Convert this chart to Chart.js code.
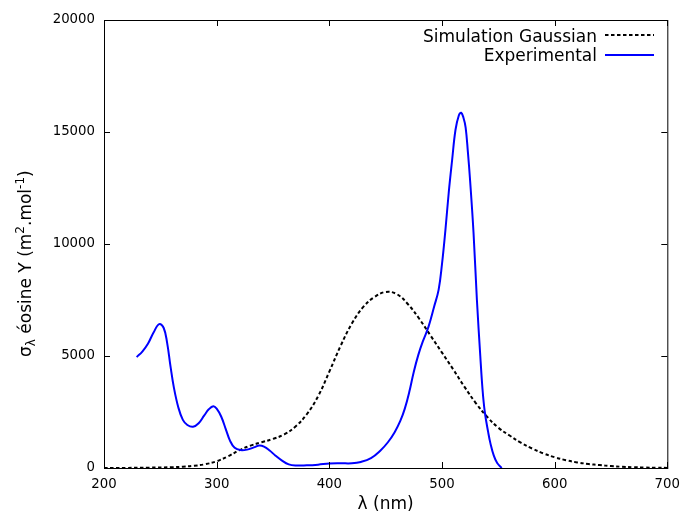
<!DOCTYPE html>
<html lang="fr">
<head>
<meta charset="utf-8"/>
<title>Spectre d'absorption éosine Y</title>
<script src="https://cdn.jsdelivr.net/npm/chart.js"></script>
<style>
  body { margin: 0; background: #fff; }
  #chart { display: block; }
</style>
</head>
<body>
<canvas id="chart" width="689" height="515"></canvas>
<script>
  // valeurs (lambda en nm, sigma en m2.mol-1)
  const simWavelengths = [200, 220, 240, 260, 270, 280, 290, 300, 310, 320, 330, 340, 350, 360, 370, 380, 390, 400, 410, 420, 430, 440, 450, 460, 470, 480, 490, 500, 510, 520, 530, 540, 550, 560, 570, 580, 590, 600, 610, 620, 630, 640, 650, 660, 670, 680, 690, 700];
  const simValues = [0, 5, 15, 35, 60, 100, 170, 300, 520, 790, 1000, 1150, 1300, 1500, 1850, 2400, 3200, 4300, 5450, 6450, 7180, 7630, 7860, 7760, 7300, 6650, 5900, 5150, 4400, 3620, 2900, 2290, 1800, 1450, 1130, 870, 650, 480, 350, 250, 180, 130, 85, 55, 35, 20, 10, 5];

  const expWavelengths = [229, 234, 239, 244, 249, 253, 256, 259, 262, 266, 270, 274, 279, 284, 289, 293, 297, 300, 304, 308, 312, 316, 321, 327, 333, 338, 342, 347, 352, 358, 364, 370, 380, 390, 400, 410, 420, 428, 437, 445, 452, 458, 463, 467, 471, 475, 479, 483, 488, 493, 497, 500, 503, 506, 509, 512, 515, 517, 519, 521, 523, 525, 528, 531, 534, 536, 538, 541, 543, 546, 549, 553];
  const expValues = [4950, 5200, 5550, 6050, 6420, 6250, 5600, 4550, 3600, 2700, 2150, 1920, 1840, 2000, 2350, 2620, 2760, 2650, 2300, 1750, 1200, 900, 800, 820, 920, 1000, 950, 780, 560, 330, 160, 110, 120, 150, 200, 210, 210, 270, 440, 760, 1150, 1600, 2100, 2650, 3400, 4300, 5050, 5650, 6300, 7200, 7950, 9100, 10600, 12300, 13750, 15100, 15750, 15860, 15650, 15200, 14100, 12800, 10500, 7500, 5000, 3500, 2500, 1600, 1100, 550, 220, 0];

  const xTicks = [200, 300, 400, 500, 600, 700];
  const yTicks = [0, 5000, 10000, 15000, 20000];

  const simLabel = 'Simulation Gaussian';
  const expLabel = 'Experimental';

  const FONT = '"DejaVu Sans", sans-serif';

  function toPoints(xs, ys) {
    return xs.map((x, i) => ({ x: x, y: ys[i] }));
  }

  // cadre + graduations vers l'intérieur (style gnuplot)
  const framePlugin = {
    id: 'frame',
    afterDraw(chart) {
      const { ctx, chartArea: a, scales } = chart;
      ctx.save();
      ctx.strokeStyle = '#000';
      ctx.lineWidth = 1;
      ctx.setLineDash([]);
      ctx.strokeRect(a.left + 0.5, a.top + 0.5, a.right - a.left, a.bottom - a.top);
      ctx.beginPath();
      xTicks.forEach(v => {
        const px = Math.round(scales.x.getPixelForValue(v)) + 0.5;
        ctx.moveTo(px, a.bottom); ctx.lineTo(px, a.bottom - 6);
        ctx.moveTo(px, a.top); ctx.lineTo(px, a.top + 6);
      });
      yTicks.forEach(v => {
        const py = Math.round(scales.y.getPixelForValue(v)) + 0.5;
        ctx.moveTo(a.left, py); ctx.lineTo(a.left + 6, py);
        ctx.moveTo(a.right, py); ctx.lineTo(a.right - 6, py);
      });
      ctx.stroke();

      // légende en haut à droite
      ctx.fillStyle = '#000';
      ctx.font = '17px ' + FONT;
      ctx.textAlign = 'right';
      ctx.textBaseline = 'alphabetic';
      ctx.fillText(simLabel, 597, 41.5);
      ctx.fillText(expLabel, 597, 60.5);
      ctx.lineWidth = 2;
      ctx.strokeStyle = '#000';
      ctx.setLineDash([3.5, 2.5]);
      ctx.beginPath(); ctx.moveTo(605, 35); ctx.lineTo(654, 35); ctx.stroke();
      ctx.setLineDash([]);
      ctx.strokeStyle = '#0000ff';
      ctx.beginPath(); ctx.moveTo(605, 55); ctx.lineTo(654, 55); ctx.stroke();

      // titre de l'axe y avec indices/exposants
      const parts = [
        ['σ', 17, 0],
        ['λ', 12, 4],
        [' éosine Y (m', 17, 0],
        ['2', 12, -7],
        ['.mol', 17, 0],
        ['-1', 12, -7],
        [')', 17, 0]
      ];
      ctx.translate(30.5, 357);
      ctx.rotate(-Math.PI / 2);
      ctx.textAlign = 'left';
      let cx = 0;
      parts.forEach(([t, s, dy]) => {
        ctx.font = s + 'px ' + FONT;
        ctx.fillText(t, cx, dy);
        cx += ctx.measureText(t).width;
      });
      ctx.restore();
    }
  };

  new Chart(document.getElementById('chart'), {
    type: 'line',
    data: {
      datasets: [
        {
          label: expLabel,
          data: toPoints(expWavelengths, expValues),
          borderColor: '#0000ff',
          borderWidth: 2,
          pointRadius: 0,
          fill: false,
          tension: 0.4,
          order: 0
        },
        {
          label: simLabel,
          data: toPoints(simWavelengths, simValues),
          borderColor: '#000',
          borderWidth: 2,
          borderDash: [3.5, 2.5],
          pointRadius: 0,
          fill: false,
          tension: 0.4,
          order: 1
        }
      ]
    },
    options: {
      responsive: false,
      animation: false,
      devicePixelRatio: 1,
      layout: { padding: { top: 20, right: 17, left: 0, bottom: 0 } },
      plugins: { legend: { display: false }, tooltip: { enabled: false } },
      scales: {
        x: {
          type: 'linear',
          min: 200,
          max: 700,
          afterBuildTicks: s => { s.ticks = xTicks.map(v => ({ value: v })); },
          afterFit: s => { s.height = 47; },
          grid: { display: false, drawTicks: false },
          border: { display: false },
          ticks: {
            color: '#000',
            font: { family: FONT, size: 13.3 },
            padding: 9,
            maxRotation: 0,
            autoSkip: false,
            callback: v => String(v)
          },
          title: {
            display: true,
            text: 'λ (nm)',
            color: '#000',
            font: { family: FONT, size: 17 },
            padding: { top: 0, bottom: 0 }
          }
        },
        y: {
          type: 'linear',
          min: 0,
          max: 20000,
          afterBuildTicks: s => { s.ticks = yTicks.map(v => ({ value: v })); },
          afterFit: s => { s.width = 104; },
          grid: { display: false, drawTicks: false },
          border: { display: false },
          ticks: {
            color: '#000',
            font: { family: FONT, size: 13.3 },
            padding: 9,
            autoSkip: false,
            callback: v => String(v)
          }
        }
      }
    },
    plugins: [framePlugin]
  });
</script>
</body>
</html>
